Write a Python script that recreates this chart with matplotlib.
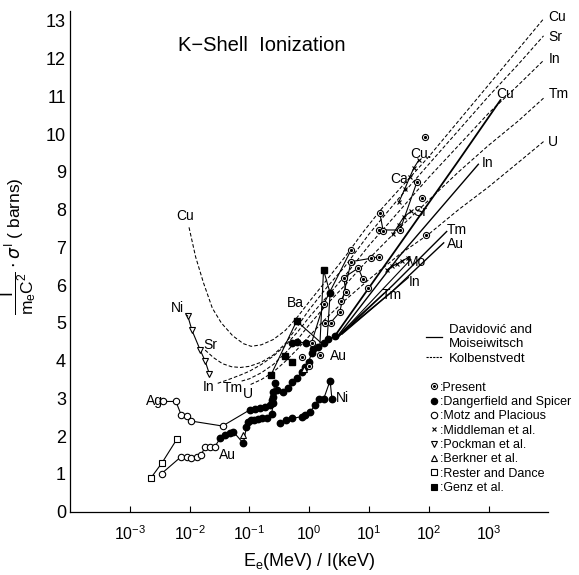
import numpy as np
import matplotlib.pyplot as plt
from matplotlib.lines import Line2D
from matplotlib.legend_handler import HandlerTuple

plt.rcParams['font.family'] = ['Liberation Sans', 'DejaVu Sans']
plt.rcParams['mathtext.fontset'] = 'dejavusans'

# x values are kept as log10(Ee/I), y in units of I/(me c^2) * sigma (barns)

# Kolbenstvedt curves (dashed)
kol_cu_lx = [-2.01, -1.9, -1.77, -1.62, -1.47, -1.28, -1.1, -0.97, -0.8, -0.6, -0.4, -0.2,
             0.0, 0.3, 0.6, 0.9, 1.2, 1.6, 2.0, 2.5, 3.0, 3.5, 3.92]
kol_cu_y = [7.53, 6.75, 6.07, 5.39, 5.0, 4.66, 4.45, 4.38, 4.42, 4.56, 4.8, 5.15,
            5.56, 6.15, 6.75, 7.4, 8.0, 8.7, 9.4, 10.35, 11.3, 12.25, 13.05]
kol_sr_lx = [-1.74, -1.6, -1.45, -1.3, -1.15, -1.0, -0.8, -0.6, -0.4, -0.2, 0.0, 0.3, 0.6,
             1.0, 1.5, 2.0, 2.5, 3.0, 3.5, 3.92]
kol_sr_y = [4.28, 4.08, 3.92, 3.84, 3.82, 3.85, 3.96, 4.15, 4.45, 4.9, 5.35, 5.95, 6.5,
            7.35, 8.3, 9.2, 10.1, 11.0, 11.85, 12.6]
kol_in_lx = [-1.53, -1.35, -1.15, -1.0, -0.8, -0.6, -0.4, -0.2, 0.0, 0.3, 0.6, 1.0, 1.5,
             2.0, 2.5, 3.0, 3.5, 3.92]
kol_in_y = [3.4, 3.5, 3.62, 3.72, 3.9, 4.12, 4.4, 4.75, 5.15, 5.7, 6.25, 7.05, 7.95,
            8.85, 9.7, 10.55, 11.3, 11.95]
kol_tm_lx = [-1.13, -1.0, -0.8, -0.6, -0.4, -0.2, 0.0, 0.3, 0.6, 1.0, 1.5, 2.0, 2.5, 3.0,
             3.5, 3.92]
kol_tm_y = [3.46, 3.52, 3.68, 3.9, 4.2, 4.55, 4.95, 5.5, 6.0, 6.7, 7.5, 8.25, 9.0, 9.7,
            10.35, 10.95]
kol_u_lx = [-0.98, -0.8, -0.6, -0.4, -0.2, 0.0, 0.3, 0.6, 1.0, 1.5, 2.0, 2.5, 3.0, 3.5, 3.92]
kol_u_y = [3.37, 3.5, 3.7, 3.98, 4.3, 4.65, 5.15, 5.6, 6.15, 6.8, 7.35, 8.0, 8.6, 9.25, 9.8]

# Davidovic and Moiseiwitsch (solid)
dav_cu_lx = [0.45, 1.5, 2.5, 3.2]
dav_cu_y = [4.7, 7.05, 9.3, 10.9]
dav_in_lx = [0.5, 1.5, 2.83]
dav_in_y = [4.7, 6.75, 9.2]
dav_tm_lx = [0.5, 1.4, 2.3]
dav_tm_y = [4.65, 6.0, 7.42]
dav_au_lx = [0.45, 1.4, 2.25]
dav_au_y = [4.6, 5.85, 7.12]
dav_mo_lx = [0.55, 1.70]
dav_mo_y = [4.75, 6.68]
dav_in2_lx = [0.55, 1.66]
dav_in2_y = [4.7, 6.2]
dav_tm2_lx = [0.5, 1.25]
dav_tm2_y = [4.7, 5.78]

# Present work
pr_lx = [1.93, 1.80, 1.89, 1.18, 1.17, 1.24, 1.52, 1.95, 0.70, 0.70, 1.03, 1.16, 0.82,
         0.90, 0.58, 0.61, 0.53, 0.24, 0.51, 0.99, 0.27, 0.36, 0.04, -0.12, 0.18, 0.0]
pr_y = [9.93, 8.72, 8.31, 7.92, 7.46, 7.42, 7.46, 7.34, 6.93, 6.62, 6.71, 6.75, 6.45,
        6.16, 6.20, 5.83, 5.58, 5.49, 5.28, 5.92, 4.99, 5.01, 4.48, 4.11, 4.15, 3.86]
pr_ca_lx = [1.18, 1.24, 1.17, 1.52, 1.80]
pr_ca_y = [7.92, 7.42, 7.46, 7.46, 8.72]
pr_a_lx = [0.53, 0.61, 0.58, 0.82, 0.90]
pr_a_y = [5.58, 5.83, 6.20, 6.45, 6.16]
pr_b_lx = [0.27, 0.36, 0.51, 0.70, 1.03, 1.16]
pr_b_y = [4.99, 5.01, 5.28, 6.62, 6.71, 6.75]
pr_c_lx = [0.04, 0.24, 0.70]
pr_c_y = [4.48, 5.49, 6.93]

# Dangerfield and Spicer
ds1_lx = [-1.49, -1.40, -1.32, -1.27, -1.10, -1.05, -1.02, -0.97, -0.93, -0.86, -0.79, -0.71,
          -0.63, -0.60, -0.60, -0.54, -0.43, -0.35, -0.29, -0.21, -0.12, -0.07, -0.01, 0.04,
          0.07, 0.15, 0.24, 0.32, 0.43]
ds1_y = [1.94, 2.02, 2.08, 2.12, 1.81, 2.25, 2.38, 2.42, 2.43, 2.45, 2.47, 2.47,
         2.58, 2.87, 3.05, 3.22, 3.18, 3.27, 3.44, 3.53, 3.71, 3.84, 3.97, 4.19,
         4.30, 4.37, 4.46, 4.57, 4.64]
ds2_lx = [-0.99, -0.91, -0.82, -0.74, -0.66, -0.63, -0.60, -0.57]
ds2_y = [2.70, 2.72, 2.75, 2.78, 2.82, 2.96, 3.18, 3.40]
ds3_lx = [-0.29, -0.21, -0.05]
ds3_y = [4.46, 4.50, 4.47]
ds_ni_lx = [-0.49, -0.39, -0.29, -0.12, -0.07, 0.02, 0.10, 0.17, 0.24, 0.35, 0.38]
ds_ni_y = [2.36, 2.42, 2.47, 2.52, 2.56, 2.65, 2.83, 2.98, 2.98, 3.47, 2.99]
ds_top_lx = [0.18, 0.24, 0.35, 0.30]
ds_top_y = [4.45, 6.40, 5.79, 4.55]

# Motz and Placious
mp_ag_lx = [-2.44, -2.23, -2.14, -2.05, -1.97, -1.45]
mp_ag_y = [2.92, 2.92, 2.56, 2.53, 2.40, 2.27]
mp_au_lx = [-2.47, -2.14, -2.05, -1.97, -1.88, -1.81, -1.74, -1.66, -1.58]
mp_au_y = [1.01, 1.46, 1.44, 1.42, 1.45, 1.50, 1.72, 1.72, 1.72]

# Middleman et al.
mid_cu_lx = [1.50, 1.60, 1.68, 1.75, 1.83]
mid_cu_y = [8.20, 8.55, 8.85, 9.10, 9.30]
mid_mo_lx = [1.30, 1.38, 1.47, 1.56, 1.65]
mid_mo_y = [6.40, 6.50, 6.56, 6.65, 6.72]
mid_sr_lx = [1.40, 1.50, 1.58, 1.70]
mid_sr_y = [7.35, 7.60, 7.80, 7.95]

# Pockman et al.
pk_lx = [-2.03, -1.96, -1.82, -1.74, -1.67]
pk_y = [5.18, 4.80, 4.27, 3.99, 3.65]

# Berkner et al.
bk_lx = [-1.10, -0.08]
bk_y = [2.02, 3.78]

# Rester and Dance
rd_lx = [-2.65, -2.46, -2.21]
rd_y = [0.89, 1.30, 1.93]

# Genz et al.
gz_lx = [-0.64, -0.40, -0.29, -0.21, 0.24]
gz_y = [3.62, 4.13, 3.96, 5.05, 6.40]
ba_lx = [-0.64, -0.21, 0.20]
ba_y = [3.62, 5.05, 4.47]

xticks_lx = [-3, -2, -1, 0, 1, 2, 3]
yticks = list(range(0, 14))


def X(lx):
    return np.power(10.0, np.asarray(lx, dtype=float))


fig = plt.figure(figsize=(5.79, 5.75), dpi=100)
ax = fig.add_axes([0.121, 0.110, 0.826, 0.871])
ax.set_xscale('log')
ax.set_xlim(1e-4, 1e4)
ax.set_ylim(0, 13.26)

dash = (0, (3.5, 2.0))
for lx, y in [(kol_cu_lx, kol_cu_y), (kol_sr_lx, kol_sr_y), (kol_in_lx, kol_in_y),
              (kol_tm_lx, kol_tm_y), (kol_u_lx, kol_u_y)]:
    ax.plot(X(lx), y, color='k', lw=0.75, ls=dash)

for lx, y, w in [(dav_cu_lx, dav_cu_y, 1.3), (dav_in_lx, dav_in_y, 1.0), (dav_tm_lx, dav_tm_y, 1.0),
                 (dav_au_lx, dav_au_y, 1.0), (dav_mo_lx, dav_mo_y, 0.8), (dav_in2_lx, dav_in2_y, 0.8),
                 (dav_tm2_lx, dav_tm2_y, 0.8)]:
    ax.plot(X(lx), y, color='k', lw=w)

thin = dict(color='k', lw=0.8)
# connecting lines of the data sets
for lx, y in [(pr_ca_lx, pr_ca_y), (pr_a_lx, pr_a_y), (pr_b_lx, pr_b_y), (pr_c_lx, pr_c_y),
              (ds_top_lx, ds_top_y), (ba_lx, ba_y), (ds3_lx, ds3_y)]:
    ax.plot(X(lx), y, **thin)
ax.plot(X([mp_ag_lx[-1], ds2_lx[0]]), [mp_ag_y[-1], ds2_y[0]], **thin)
ax.plot(X([mp_au_lx[-1], ds1_lx[0]]), [mp_au_y[-1], ds1_y[0]], **thin)

ms = 4.6
ax.plot(X(ds1_lx), ds1_y, marker='o', ms=ms, mfc='k', mec='k', **thin)
ax.plot(X(ds2_lx), ds2_y, marker='o', ms=ms, mfc='k', mec='k', **thin)
ax.plot(X(ds_ni_lx), ds_ni_y, marker='o', ms=ms, mfc='k', mec='k', **thin)
ax.plot(X(ds3_lx), ds3_y, ls='none', marker='o', ms=ms, mfc='k', mec='k')
ax.plot(X(ds_top_lx[2:3]), ds_top_y[2:3], ls='none', marker='o', ms=ms, mfc='k', mec='k')
ax.plot(X(mp_ag_lx), mp_ag_y, marker='o', ms=ms, mfc='w', mec='k', mew=0.8, **thin)
ax.plot(X(mp_au_lx), mp_au_y, marker='o', ms=ms, mfc='w', mec='k', mew=0.8, **thin)
ax.plot(X(rd_lx), rd_y, marker='s', ms=4.2, mfc='w', mec='k', mew=0.8, **thin)
ax.plot(X(pk_lx), pk_y, marker='v', ms=4.5, mfc='w', mec='k', mew=0.8, **thin)
ax.plot(X(bk_lx), bk_y, ls='none', marker='^', ms=4.0, mfc='w', mec='k', mew=0.8)
for lx, y in [(mid_cu_lx, mid_cu_y), (mid_mo_lx, mid_mo_y), (mid_sr_lx, mid_sr_y)]:
    ax.plot(X(lx), y, marker='x', ms=3.2, mew=0.8, **thin)
ax.plot(X(gz_lx), gz_y, ls='none', marker='s', ms=4.4, mfc='k', mec='k')
ax.plot(X(pr_lx), pr_y, ls='none', marker='o', ms=4.4, mfc='w', mec='k', mew=0.8)
ax.plot(X(pr_lx), pr_y, ls='none', marker='o', ms=1.3, mfc='k', mec='k')

# curve and element labels
lab = dict(fontsize=10, ha='center', va='center')
ax.text(X(-0.79), 12.34, 'K\u2212Shell  Ionization', fontsize=14.5, ha='center', va='center')
for t, lx, y in [('Cu', 4.0, 13.11), ('Sr', 4.0, 12.58), ('In', 4.0, 12.0),
                 ('Tm', 4.0, 11.05), ('U', 4.0, 9.8)]:
    ax.text(X(lx), y, t, fontsize=10, ha='left', va='center')
for t, lx, y in [('Cu', 3.27, 11.05), ('In', 2.98, 9.23), ('Cu.', 1.87, 9.47), ('Ca', 1.50, 8.80),
                 ('Sr', 1.86, 7.94), ('Tm', 2.47, 7.45), ('Au', 2.44, 7.09), ('Mo', 1.79, 6.61),
                 ('In', 1.76, 6.07), ('Tm', 1.39, 5.73), ('Ba', -0.23, 5.54), ('Au', 0.49, 4.13),
                 ('Ni', 0.55, 3.01), ('Cu', -2.08, 7.82), ('Sr', -1.65, 4.42), ('In', -1.68, 3.30),
                 ('Tm', -1.28, 3.27), ('U', -1.02, 3.11), ('Au', -1.37, 1.51)]:
    ax.text(X(lx), y, t, **lab)
ax.annotate('Ni', xy=(X(pk_lx[0]), pk_y[0]), xytext=(X(-2.21), 5.39), fontsize=10,
            ha='center', va='center', arrowprops=dict(arrowstyle='-', lw=0.8, shrinkA=2, shrinkB=2))
ax.annotate('Ag', xy=(X(mp_ag_lx[0]), mp_ag_y[0]), xytext=(X(-2.59), 2.92), fontsize=10,
            ha='center', va='center', arrowprops=dict(arrowstyle='-', lw=0.8, shrinkA=4, shrinkB=2))

# axes styling
for s in ['top', 'right']:
    ax.spines[s].set_visible(False)
ax.spines['left'].set_linewidth(0.9)
ax.spines['bottom'].set_linewidth(0.9)
ax.set_xticks(X(xticks_lx))
ax.set_xticklabels([r'$\mathregular{10^{%d}}$' % v for v in xticks_lx], fontsize=11.5)
ax.xaxis.set_minor_locator(plt.NullLocator())
ax.tick_params(axis='x', direction='in', length=4, width=0.8, pad=9)
ax.set_yticks(yticks)
ax.set_yticklabels([str(v) for v in yticks], fontsize=13)
ax.tick_params(axis='y', direction='in', length=0, pad=3)

ax.set_xlabel(r'E$_\mathregular{e}$(MeV) / I(keV)', fontsize=13, labelpad=6)
ax.set_ylabel(r'$\dfrac{\mathregular{I}}{\mathregular{m_eC^2}}\cdot\sigma^{\mathregular{I}}$ ( barns)',
              fontsize=12.5)
ax.yaxis.set_label_coords(-0.068, 0.53)

# legends
h_lines = [Line2D([], [], color='k', lw=0.9), Line2D([], [], color='k', lw=0.8, ls=(0, (2, 1)))]
leg1 = ax.legend(h_lines, ['Davidovi\u0107 and\nMoiseiwitsch', 'Kolbenstvedt'], loc='upper left',
                 bbox_to_anchor=(0.745, 0.375), frameon=False, fontsize=9.5, handlelength=1.2,
                 handletextpad=0.5, labelspacing=0.2, borderpad=0, borderaxespad=0)
ax.add_artist(leg1)

mk = dict(ls='none', mec='k', mew=0.8)
h_marks = [
    (Line2D([], [], marker='o', ms=4.4, mfc='w', **mk), Line2D([], [], marker='o', ms=1.3, mfc='k', **mk)),
    Line2D([], [], marker='o', ms=4.6, mfc='k', **mk),
    Line2D([], [], marker='o', ms=4.6, mfc='w', **mk),
    Line2D([], [], marker='x', ms=3.2, **mk),
    Line2D([], [], marker='v', ms=4.5, mfc='w', **mk),
    Line2D([], [], marker='^', ms=4.0, mfc='w', **mk),
    Line2D([], [], marker='s', ms=4.2, mfc='w', **mk),
    Line2D([], [], marker='s', ms=4.4, mfc='k', **mk),
]
names = [':Present', ':Dangerfield and Spicer', ':Motz and Placious', ':Middleman et al.',
         ':Pockman et al.', ':Berkner et al.', ':Rester and Dance', ':Genz et al.']
ax.legend(h_marks, names, loc='upper left', bbox_to_anchor=(0.752, 0.26), frameon=False,
          fontsize=9, handlelength=0.7, handletextpad=0.15, labelspacing=0.19, borderpad=0,
          borderaxespad=0, handler_map={tuple: HandlerTuple(ndivide=1)})

fig.savefig('out.png', dpi=100)
